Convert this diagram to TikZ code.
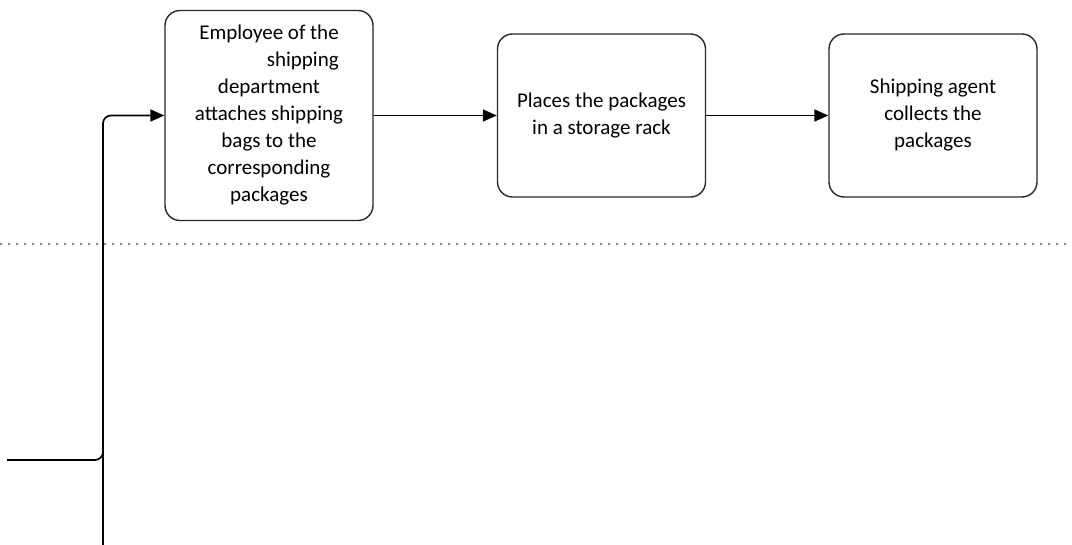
\documentclass[tikz,border=0pt]{standalone}
\usepackage{fontspec}
\setmainfont{Carlito}
\usetikzlibrary{arrows.meta, positioning}
\definecolor{cBoxDraw}{RGB}{40, 40, 40}
\definecolor{lineColor}{RGB}{0, 0, 0}
\definecolor{sepColor}{RGB}{130, 130, 130}
\tikzset{
    font=\fontsize{21}{27}\selectfont,
    % --- process steps ---
    stepNode/.style={
        rectangle, rounded corners=15pt,
        draw=cBoxDraw, line width=1.4pt, fill=white,
        minimum width=208pt, inner sep=0pt,
        align=center
    },
    % --- connectors ---
    connPlain/.style={
        draw=lineColor, line width=1.7pt
    },
    conn/.style={
        connPlain,
        -{Triangle[length=14pt, width=12pt]}
    },
    % --- lane separator ---
    laneSep/.style={
        draw=sepColor, line width=1.8pt,
        dash pattern=on 1.8pt off 6.2pt
    }
}

\begin{document}
\begin{tikzpicture}[x=1pt, y=-1pt]

	\useasboundingbox (0,0) rectangle (1072,545);

	% =========================================
	% 1. steps of the upper lane
	% =========================================

	\node[stepNode, minimum height=210pt] (attach) at (269,115.5) {
		Employee of the\\
		\hphantom{Employee of the}\llap{shipping}\\
		department\\
		attaches shipping\\
		bags to the\\
		corresponding\\
		packages
	};
	\node[stepNode, minimum height=163pt] (rack) at (601.5,115.5) {
		Places the packages\\
		in a storage rack
	};
	\node[stepNode, minimum height=163pt] (collect) at (933,115.5) {
		Shipping agent\\
		collects the\\
		packages
	};

	\draw[conn] (attach) -- (rack);
	\draw[conn] (rack) -- (collect);

	% =========================================
	% 2. lane border and incoming flow
	% =========================================

	\coordinate (sepL) at (0,244);
	\coordinate (sepR) at (1072,244);
	\draw[laneSep] (sepL) -- (sepR);

	% vertical feed from below into the first step
	\coordinate (feedBottom) at (103,546);
	\draw[conn, rounded corners=8pt] (feedBottom) |- (attach);

	% branch coming in from the left
	\coordinate (inLeft) at (7,460);
	\coordinate (joinUp) at (103,440);
	\draw[connPlain, rounded corners=8pt] (inLeft) -| (joinUp);

\end{tikzpicture}
\end{document}
